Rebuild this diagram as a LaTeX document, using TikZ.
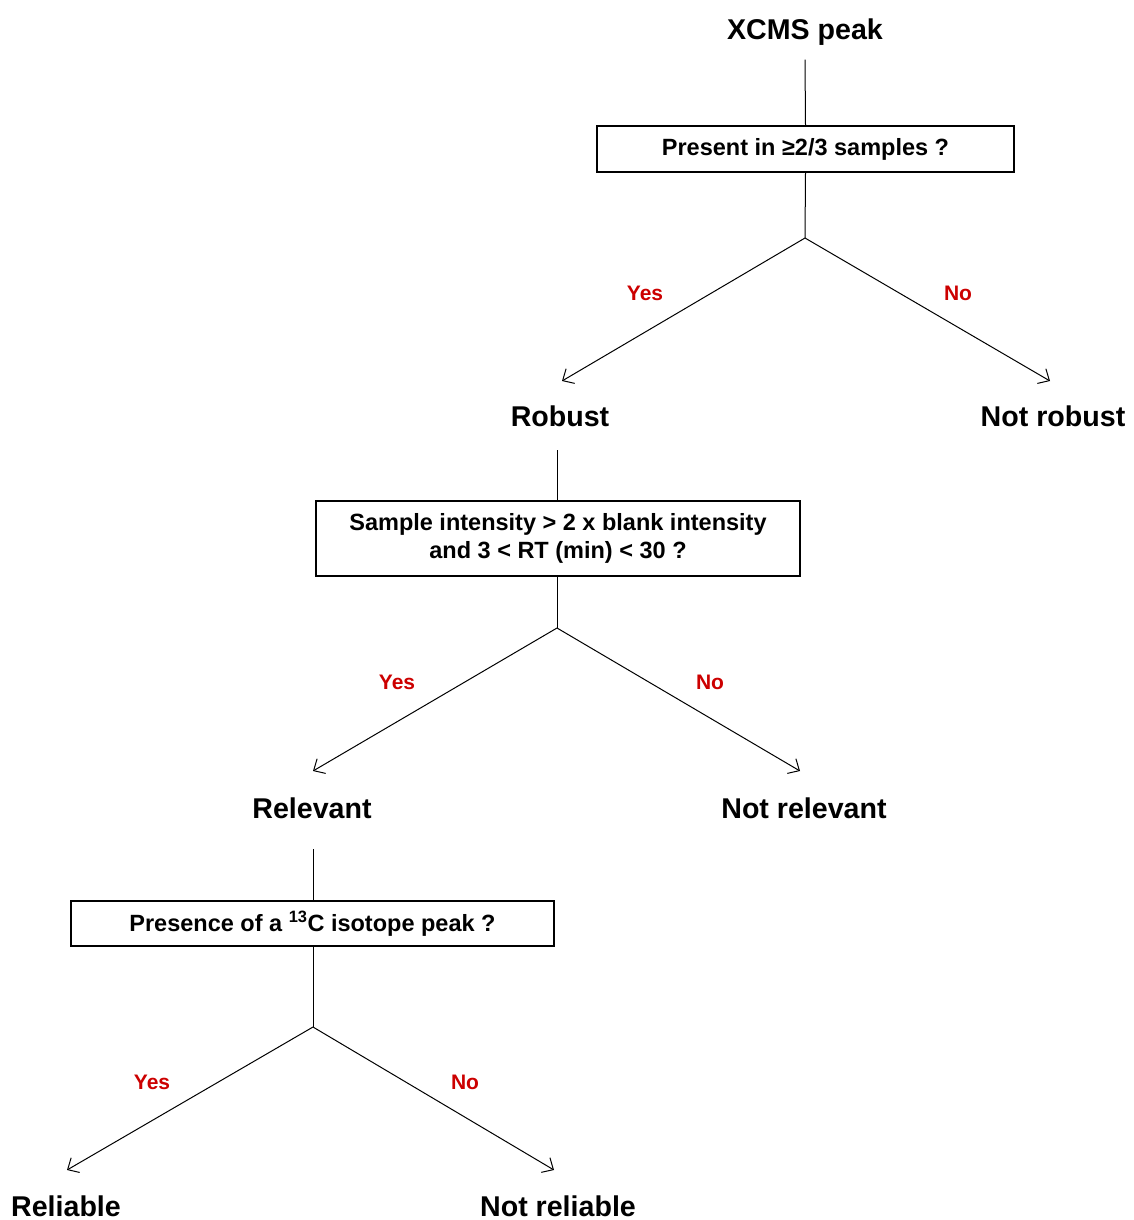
\documentclass[tikz,border=0pt]{standalone}
\usepackage{fontspec}
\setmainfont{Liberation Sans}
\usetikzlibrary{arrows.meta}
\definecolor{answerred}{RGB}{204,0,0}
\tikzset{
  result/.style={font=\fontsize{28.6}{32}\selectfont\bfseries, inner sep=0pt},
  question/.style={draw, line width=1.3pt, font=\fontsize{23.5}{28}\selectfont\bfseries, align=center, inner sep=0pt},
  answer/.style={font=\fontsize{21}{24}\selectfont\bfseries, text=answerred, inner sep=0pt},
  link/.style={line width=1pt},
  branch/.style={line width=1pt, -{Straight Barb[length=9pt, width=17pt]}}
}
\begin{document}
\begin{tikzpicture}[x=1pt, y=-1pt]
\useasboundingbox (0,0) rectangle (1133,1220);
% first test
\node[result] (peak) at (805,32) {XCMS peak};
\node[question, minimum width=417pt, minimum height=46pt] (present) at (805.5,149) {Present in ≥2/3 samples ?};
\coordinate (split1) at (805,238);
\coordinate (robustin) at (562,381);
\coordinate (notrobustin) at (1050,381);
\node[result] (robust) at (560,416) {Robust};
\node[result] (notrobust) at (1053,416) {Not robust};
\draw[link] (peak.south) ++(0,14) -- (present.north);
\draw[link] (present.south) -- (split1);
\draw[branch] (split1) -- (robustin);
\draw[branch] (split1) -- (notrobustin);
\node[answer] at (645,293) {Yes};
\node[answer] at (958,293) {No};
% second test
\node[question, minimum width=484pt, minimum height=75pt] (intensity) at (558,538.5) {Sample intensity > 2 x blank intensity\\and 3 < RT (min) < 30 ?};
\coordinate (split2) at (557,628);
\coordinate (relevantin) at (313,771);
\coordinate (notrelevantin) at (800,771);
\node[result] (relevant) at (312,808) {Relevant};
\node[result] (notrelevant) at (804,808) {Not relevant};
\draw[link] (557,450) -- (intensity.north -| 557,0);
\draw[link] (intensity.south -| 557,0) -- (split2);
\draw[branch] (split2) -- (relevantin);
\draw[branch] (split2) -- (notrelevantin);
\node[answer] at (397,682) {Yes};
\node[answer] at (710,682) {No};
% third test
\node[question, minimum width=483pt, minimum height=45pt] (isotope) at (312.5,923.5) {Presence of a \textsuperscript{13}C isotope peak ?};
\coordinate (split3) at (313,1027);
\coordinate (reliablein) at (67,1170);
\coordinate (notreliablein) at (554,1170);
\node[result] (reliable) at (66,1206) {Reliable};
\node[result] (notreliable) at (558,1206) {Not reliable};
\draw[link] (313,849) -- (isotope.north -| 313,0);
\draw[link] (isotope.south -| 313,0) -- (split3);
\draw[branch] (split3) -- (reliablein);
\draw[branch] (split3) -- (notreliablein);
\node[answer] at (152,1082) {Yes};
\node[answer] at (465,1082) {No};
\end{tikzpicture}
\end{document}
